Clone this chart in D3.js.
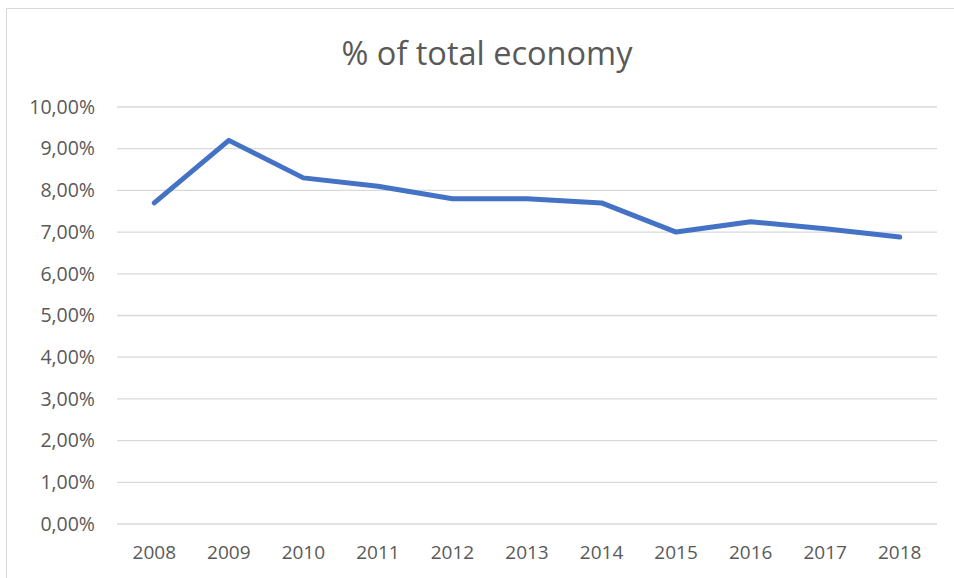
<!DOCTYPE html>
<html>
<head>
<meta charset="utf-8">
<script src="https://cdn.jsdelivr.net/npm/d3@7"></script>
<style>
  body { margin: 0; background: #fff; }
  text { font-family: "Liberation Sans Narrow", "Open Sans", sans-serif; fill: #595959; }
</style>
</head>
<body>
<div id="chart"></div>
<script>
const years = ["2008", "2009", "2010", "2011", "2012", "2013", "2014", "2015", "2016", "2017", "2018"];
const share = [7.7, 9.2, 8.3, 8.1, 7.8, 7.8, 7.7, 7.0, 7.25, 7.08, 6.88];
const yTicks = [0, 1, 2, 3, 4, 5, 6, 7, 8, 9, 10];

const width = 954, height = 578;
const margin = { top: 107, right: 17, bottom: 54, left: 117 };

const svg = d3.select("#chart")
    .append("svg")
    .attr("width", width)
    .attr("height", height);

// outer frame
svg.append("rect")
    .attr("x", 6.5).attr("y", 8.5)
    .attr("width", width).attr("height", height)
    .attr("fill", "none")
    .attr("stroke", "#d9d9d9");

let xScale = d3.scaleBand()
    .domain(years)
    .range([margin.left, width - margin.right]);

let yScale = d3.scaleLinear()
    .domain([0, 10])
    .range([height - margin.bottom, margin.top]);

// gridlines
svg.append("g")
    .selectAll("line")
    .data(yTicks)
    .enter()
    .append("line")
    .attr("x1", margin.left)
    .attr("x2", width - margin.right)
    .attr("y1", d => yScale(d))
    .attr("y2", d => yScale(d))
    .attr("stroke", "#d9d9d9")
    .attr("stroke-width", 1.3);

// y labels
let fmt = d => d.toFixed(2).replace(".", ",") + "%";
let yAxis = d3.axisLeft(yScale)
    .tickValues(yTicks)
    .tickFormat(fmt)
    .tickSize(0)
    .tickPadding(0);
let gy = svg.append("g")
    .attr("transform", `translate(${95},0)`)
    .call(yAxis);
gy.select(".domain").remove();
gy.selectAll("text").style("font-size", "19.5px").attr("fill", "#595959");

// x labels
let xAxis = d3.axisBottom(xScale).tickSize(0).tickPadding(0);
let gx = svg.append("g")
    .attr("transform", `translate(0,${height - margin.bottom + 21})`)
    .call(xAxis);
gx.select(".domain").remove();
gx.selectAll("text").style("font-size", "19px").attr("fill", "#595959");

// the line
let line = d3.line()
    .x((d, i) => xScale(years[i]) + xScale.bandwidth() / 2)
    .y(d => yScale(d));

svg.append("path")
    .datum(share)
    .attr("fill", "none")
    .attr("stroke", "#4472c4")
    .attr("stroke-width", 5)
    .attr("stroke-linejoin", "round")
    .attr("stroke-linecap", "round")
    .attr("d", line);

// title
svg.append("text")
    .attr("x", 487)
    .attr("y", 65)
    .attr("text-anchor", "middle")
    .style("font-size", "32.5px")
    .text("% of total economy");
</script>
</body>
</html>
